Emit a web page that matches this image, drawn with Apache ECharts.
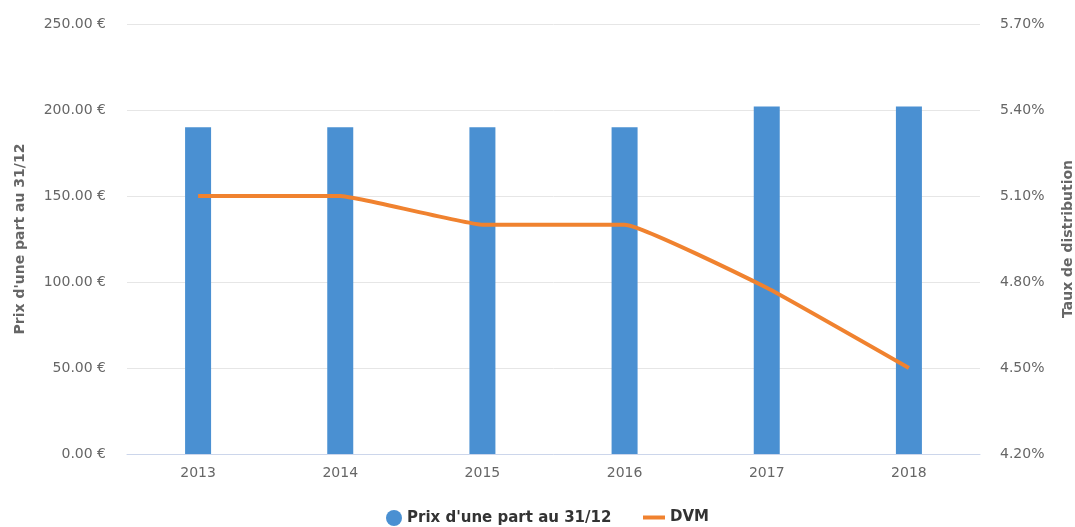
<!DOCTYPE html>
<html>
<head>
<meta charset="utf-8">
<script src="https://cdn.jsdelivr.net/npm/echarts@6/dist/echarts.min.js"></script>
<style>
  html, body { margin: 0; padding: 0; background: #fff; }
  #chart { width: 1075px; height: 527px; }
</style>
</head>
<body>
<div id="chart"></div>
<script>
// années
const years = ['2013', '2014', '2015', '2016', '2017', '2018'];
// prix d'une part au 31/12 (€)
const prixPart = [190, 190, 190, 190, 202, 202];
// taux de distribution (%)
const dvm = [5.10, 5.10, 5.00, 5.00, 4.78, 4.50];

const barColor = '#4a90d2';
const lineColor = '#f0822f';
const font = '"DejaVu Sans", sans-serif';

const chart = echarts.init(document.getElementById('chart'));

const legendText = { fontWeight: 'bold', fontSize: 15, color: '#333', fontFamily: font };

const option = {
  animation: false,
  textStyle: { fontFamily: font },
  grid: { left: 127, right: 95, top: 24, bottom: 73, outerBoundsMode: 'none' },
  legend: [
    {
      data: ['Prix d\'une part au 31/12'],
      left: 381,
      top: 505,
      icon: 'circle',
      itemWidth: 16,
      itemHeight: 16,
      itemGap: 8,
      textStyle: legendText
    },
    {
      data: ['DVM'],
      left: 638,
      top: 505,
      icon: 'rect',
      itemWidth: 22,
      itemHeight: 4,
      textStyle: legendText
    }
  ],
  xAxis: {
    type: 'category',
    data: years,
    axisLine: { lineStyle: { color: '#ccd6eb' } },
    axisTick: { show: false },
    axisLabel: { color: '#666', fontSize: 14, margin: 12 }
  },
  yAxis: [
    {
      type: 'value',
      min: 0,
      max: 250,
      interval: 50,
      name: 'Prix d\'une part au 31/12',
      nameLocation: 'middle',
      nameRotate: 90,
      nameGap: 100,
      nameTextStyle: { color: '#666', fontWeight: 'bold', fontSize: 14 },
      axisLabel: {
        color: '#666',
        fontSize: 14,
        margin: 21,
        formatter: (v) => v.toFixed(2) + ' €'
      },
      splitLine: { lineStyle: { color: '#e6e6e6' } },
      axisLine: { show: false },
      axisTick: { show: false }
    },
    {
      type: 'value',
      min: 4.2,
      max: 5.7,
      interval: 0.3,
      name: 'Taux de distribution',
      nameLocation: 'middle',
      nameRotate: 90,
      nameGap: 81,
      nameTextStyle: { color: '#666', fontWeight: 'bold', fontSize: 14 },
      axisLabel: {
        color: '#666',
        fontSize: 14,
        margin: 20,
        formatter: (v) => v.toFixed(2) + '%'
      },
      splitLine: { show: false },
      axisLine: { show: false },
      axisTick: { show: false }
    }
  ],
  series: [
    {
      name: 'Prix d\'une part au 31/12',
      type: 'bar',
      yAxisIndex: 0,
      data: prixPart,
      barWidth: 26,
      itemStyle: { color: barColor }
    },
    {
      name: 'DVM',
      type: 'line',
      yAxisIndex: 1,
      data: dvm,
      smooth: 0.1,
      showSymbol: false,
      symbol: 'none',
      lineStyle: { color: lineColor, width: 4 },
      itemStyle: { color: lineColor }
    }
  ]
};

chart.setOption(option);
</script>
</body>
</html>
